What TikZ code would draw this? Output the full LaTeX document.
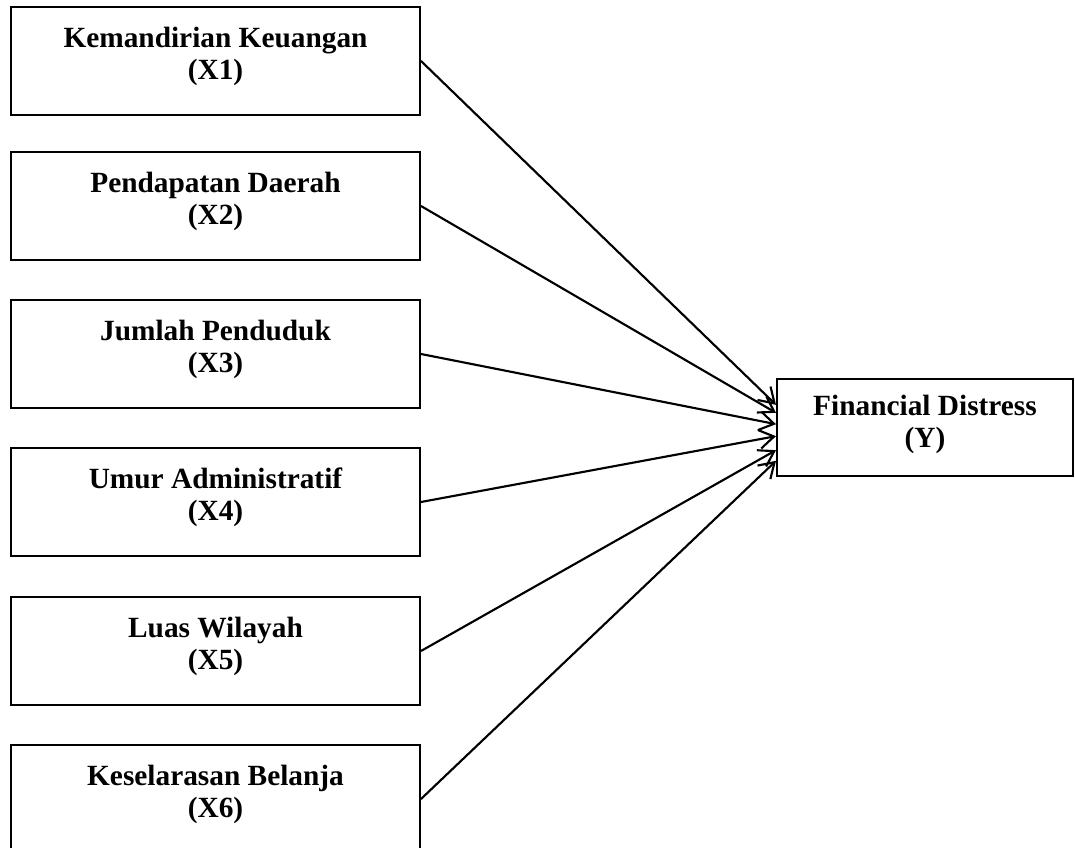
\documentclass[tikz,border=0pt]{standalone}
\usepackage{fontspec}
\setmainfont{Liberation Serif}
\usetikzlibrary{arrows.meta}
\begin{document}
\begin{tikzpicture}[x=0.75pt,y=-0.75pt,
  box/.style={draw, line width=1.5pt, inner sep=0pt, minimum width=306.75pt, minimum height=81pt},
  ybox/.style={draw, line width=1.5pt, inner sep=0pt, minimum width=222pt, minimum height=72.75pt},
  lbl/.style={font=\bfseries\fontsize{22}{24}\selectfont, align=center, inner sep=0pt, anchor=north},
  conn/.style={line width=1.6pt, -{Straight Barb[length=11pt,width=14pt,line width=1.6pt]}}]
\useasboundingbox (0,0) rectangle (1075,848);
\node[box] (x1) at (215.5,61) {};
\node[box] (x2) at (215.5,206) {};
\node[box] (x3) at (215.5,354) {};
\node[box] (x4) at (215.5,502) {};
\node[box] (x5) at (215.5,651) {};
\node[box] (x6) at (215.5,799) {};
\node[ybox] (y) at (925,427.5) {};
\node[lbl] (t1) at (215.5,27) {Kemandirian Keuangan\\(X1)};
\node[lbl] (t2) at (215.5,172) {Pendapatan Daerah\\(X2)};
\node[lbl] (t3) at (215.5,320) {Jumlah Penduduk\\(X3)};
\node[lbl] (t4) at (215.5,468) {Umur Administratif\\(X4)};
\node[lbl] (t5) at (215.5,617) {Luas Wilayah\\(X5)};
\node[lbl] (t6) at (215.5,765) {Keselarasan Belanja\\(X6)};
\node[lbl] (ty) at (925,395) {Financial Distress\\(Y)};
\draw[conn] (x1.east) -- ([yshift=17pt]y.west);
\draw[conn] (x2.east) -- ([yshift=11pt]y.west);
\draw[conn] (x3.east) -- ([yshift=2.5pt]y.west);
\draw[conn] (x4.east) -- ([yshift=-6.5pt]y.west);
\draw[conn] (x5.east) -- ([yshift=-17pt]y.west);
\draw[conn] (x6.east) -- ([yshift=-25pt]y.west);
\end{tikzpicture}
\end{document}
